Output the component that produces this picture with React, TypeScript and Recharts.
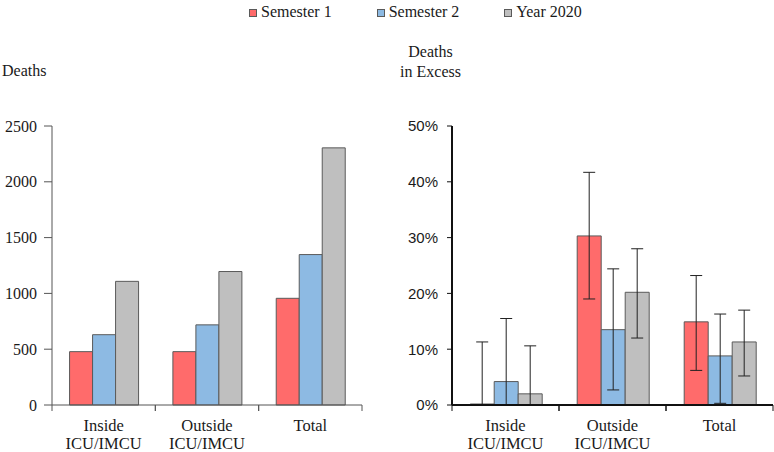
import { BarChart, Bar, XAxis, YAxis, ErrorBar } from 'recharts';

// categories and series
const categories = ['Inside\nICU/IMCU', 'Outside\nICU/IMCU', 'Total'];
const seriesNames = ['Semester 1', 'Semester 2', 'Year 2020'];
const seriesColors = ['#ff6b6b', '#8dbae3', '#bfbfbf'];

// left panel: deaths
const deathsS1 = [478, 478, 956];
const deathsS2 = [630, 718, 1348];
const deathsYear = [1108, 1196, 2304];
const deathsTicks = [0, 500, 1000, 1500, 2000, 2500];

// right panel: deaths in excess (%), with confidence bounds
const excessS1 = [0, 30.3, 14.9];
const excessS2 = [4.2, 13.5, 8.8];
const excessYear = [2.0, 20.2, 11.3];
const excessLowS1 = [0, 19.0, 6.2];
const excessLowS2 = [0, 2.7, 0.3];
const excessLowYear = [0, 12.0, 5.2];
const excessHighS1 = [11.3, 41.7, 23.2];
const excessHighS2 = [15.5, 24.4, 16.3];
const excessHighYear = [10.6, 28.0, 17.0];
const excessTicks = [0, 10, 20, 30, 40, 50];

const serif = '"Liberation Serif", "Times New Roman", serif';
const sans = '"Liberation Sans", Arial, sans-serif';
const textColor = '#1a1a1a';
const barStroke = '#5a5a5a';

const deathsData = categories.map((c, i) => ({
  category: c,
  s1: deathsS1[i],
  s2: deathsS2[i],
  yr: deathsYear[i],
}));

const err = (v: number, lo: number, hi: number) => [v - lo, hi - v];

const excessData = categories.map((c, i) => ({
  category: c,
  s1: excessS1[i],
  s2: excessS2[i],
  yr: excessYear[i],
  s1Err: err(excessS1[i], excessLowS1[i], excessHighS1[i]),
  s2Err: err(excessS2[i], excessLowS2[i], excessHighS2[i]),
  yrErr: err(excessYear[i], excessLowYear[i], excessHighYear[i]),
}));

const keys = ['s1', 's2', 'yr'];

// category label in two lines, with tick marks on the band edges
function makeCategoryTick(lineColor: string) {
  return (props: any) => {
    const { x, y, payload, width } = props;
    const half = payload.offset || width / categories.length / 2;
    const lines = String(payload.value).split('\n');
    return (
      <g>
        <line x1={x - half} x2={x - half} y1={y} y2={y + 6} stroke={lineColor} />
        <line x1={x + half} x2={x + half} y1={y} y2={y + 6} stroke={lineColor} />
        <text x={x} y={y + 26} textAnchor="middle" fontFamily={serif} fontSize={16.5} fill={textColor}>
          {lines.map((l, i) => (
            <tspan key={i} x={x} dy={i === 0 ? 0 : 18}>
              {l}
            </tspan>
          ))}
        </text>
      </g>
    );
  };
}

function Legend() {
  return (
    <div
      style={{
        position: 'absolute',
        left: 249,
        top: 2,
        display: 'flex',
        gap: 45,
        fontFamily: serif,
        fontSize: 16,
        lineHeight: '20px',
        color: textColor,
      }}
    >
      {seriesNames.map((n, i) => (
        <div key={n} style={{ display: 'flex', alignItems: 'center' }}>
          <span
            style={{
              width: 6,
              height: 6,
              background: seriesColors[i],
              border: `1px solid ${barStroke}`,
              marginRight: 4,
              marginTop: 1,
            }}
          />
          <span>{n}</span>
        </div>
      ))}
    </div>
  );
}

export default function App() {
  return (
    <div
      style={{
        position: 'absolute',
        left: 0,
        top: 0,
        width: 774,
        height: 452,
        background: '#fff',
        fontFamily: serif,
        color: textColor,
      }}
    >
      <Legend />
      <div style={{ position: 'absolute', left: 2, top: 61, fontSize: 16, lineHeight: '20px' }}>Deaths</div>
      <div
        style={{
          position: 'absolute',
          left: 380,
          width: 101,
          top: 42,
          fontSize: 16,
          lineHeight: '20px',
          textAlign: 'center',
        }}
      >
        Deaths
        <br />
        in Excess
      </div>

      <div style={{ position: 'absolute', left: 0, top: 0 }}>
        <BarChart
          width={370}
          height={452}
          data={deathsData}
          margin={{ top: 126, right: 8, left: 0, bottom: 0 }}
          barCategoryGap="17%"
          barGap={0}
        >
          <XAxis
            dataKey="category"
            height={47}
            axisLine={{ stroke: '#555', strokeWidth: 1 }}
            tickLine={false}
            tickSize={0}
            tickMargin={0}
            interval={0}
            tick={makeCategoryTick('#555')}
          />
          <YAxis
            width={52}
            domain={[0, 2500]}
            ticks={deathsTicks}
            interval={0}
            axisLine={{ stroke: '#555', strokeWidth: 1 }}
            tickLine={{ stroke: '#555' }}
            tickSize={8}
            tickMargin={7}
            tick={{ fontFamily: serif, fontSize: 16, fill: textColor }}
          />
          {keys.map((k, i) => (
            <Bar
              key={k}
              dataKey={k}
              name={seriesNames[i]}
              fill={seriesColors[i]}
              stroke={barStroke}
              strokeWidth={1}
              isAnimationActive={false}
            />
          ))}
        </BarChart>
      </div>

      <div style={{ position: 'absolute', left: 390, top: 0 }}>
        <BarChart
          width={384}
          height={452}
          data={excessData}
          margin={{ top: 126, right: 1, left: 0, bottom: 0 }}
          barCategoryGap="17%"
          barGap={0}
        >
          {keys.map((k, i) => (
            <Bar
              key={k}
              dataKey={k}
              name={seriesNames[i]}
              fill={seriesColors[i]}
              stroke={barStroke}
              strokeWidth={1}
              minPointSize={1}
              isAnimationActive={false}
            >
              <ErrorBar
                dataKey={`${k}Err`}
                direction="y"
                width={6}
                stroke="#222"
                strokeWidth={1}
                isAnimationActive={false}
              />
            </Bar>
          ))}
          <XAxis
            dataKey="category"
            height={47}
            axisLine={{ stroke: '#111', strokeWidth: 2 }}
            tickLine={false}
            tickSize={0}
            tickMargin={0}
            interval={0}
            tick={makeCategoryTick('#111')}
          />
          <YAxis
            width={62}
            domain={[0, 50]}
            ticks={excessTicks}
            interval={0}
            tickFormatter={(v) => `${v}%`}
            axisLine={{ stroke: '#111', strokeWidth: 2 }}
            tickLine={{ stroke: '#111' }}
            tickSize={5}
            tickMargin={9}
            tick={{ fontFamily: sans, fontSize: 15, fill: textColor }}
          />
        </BarChart>
      </div>
    </div>
  );
}
